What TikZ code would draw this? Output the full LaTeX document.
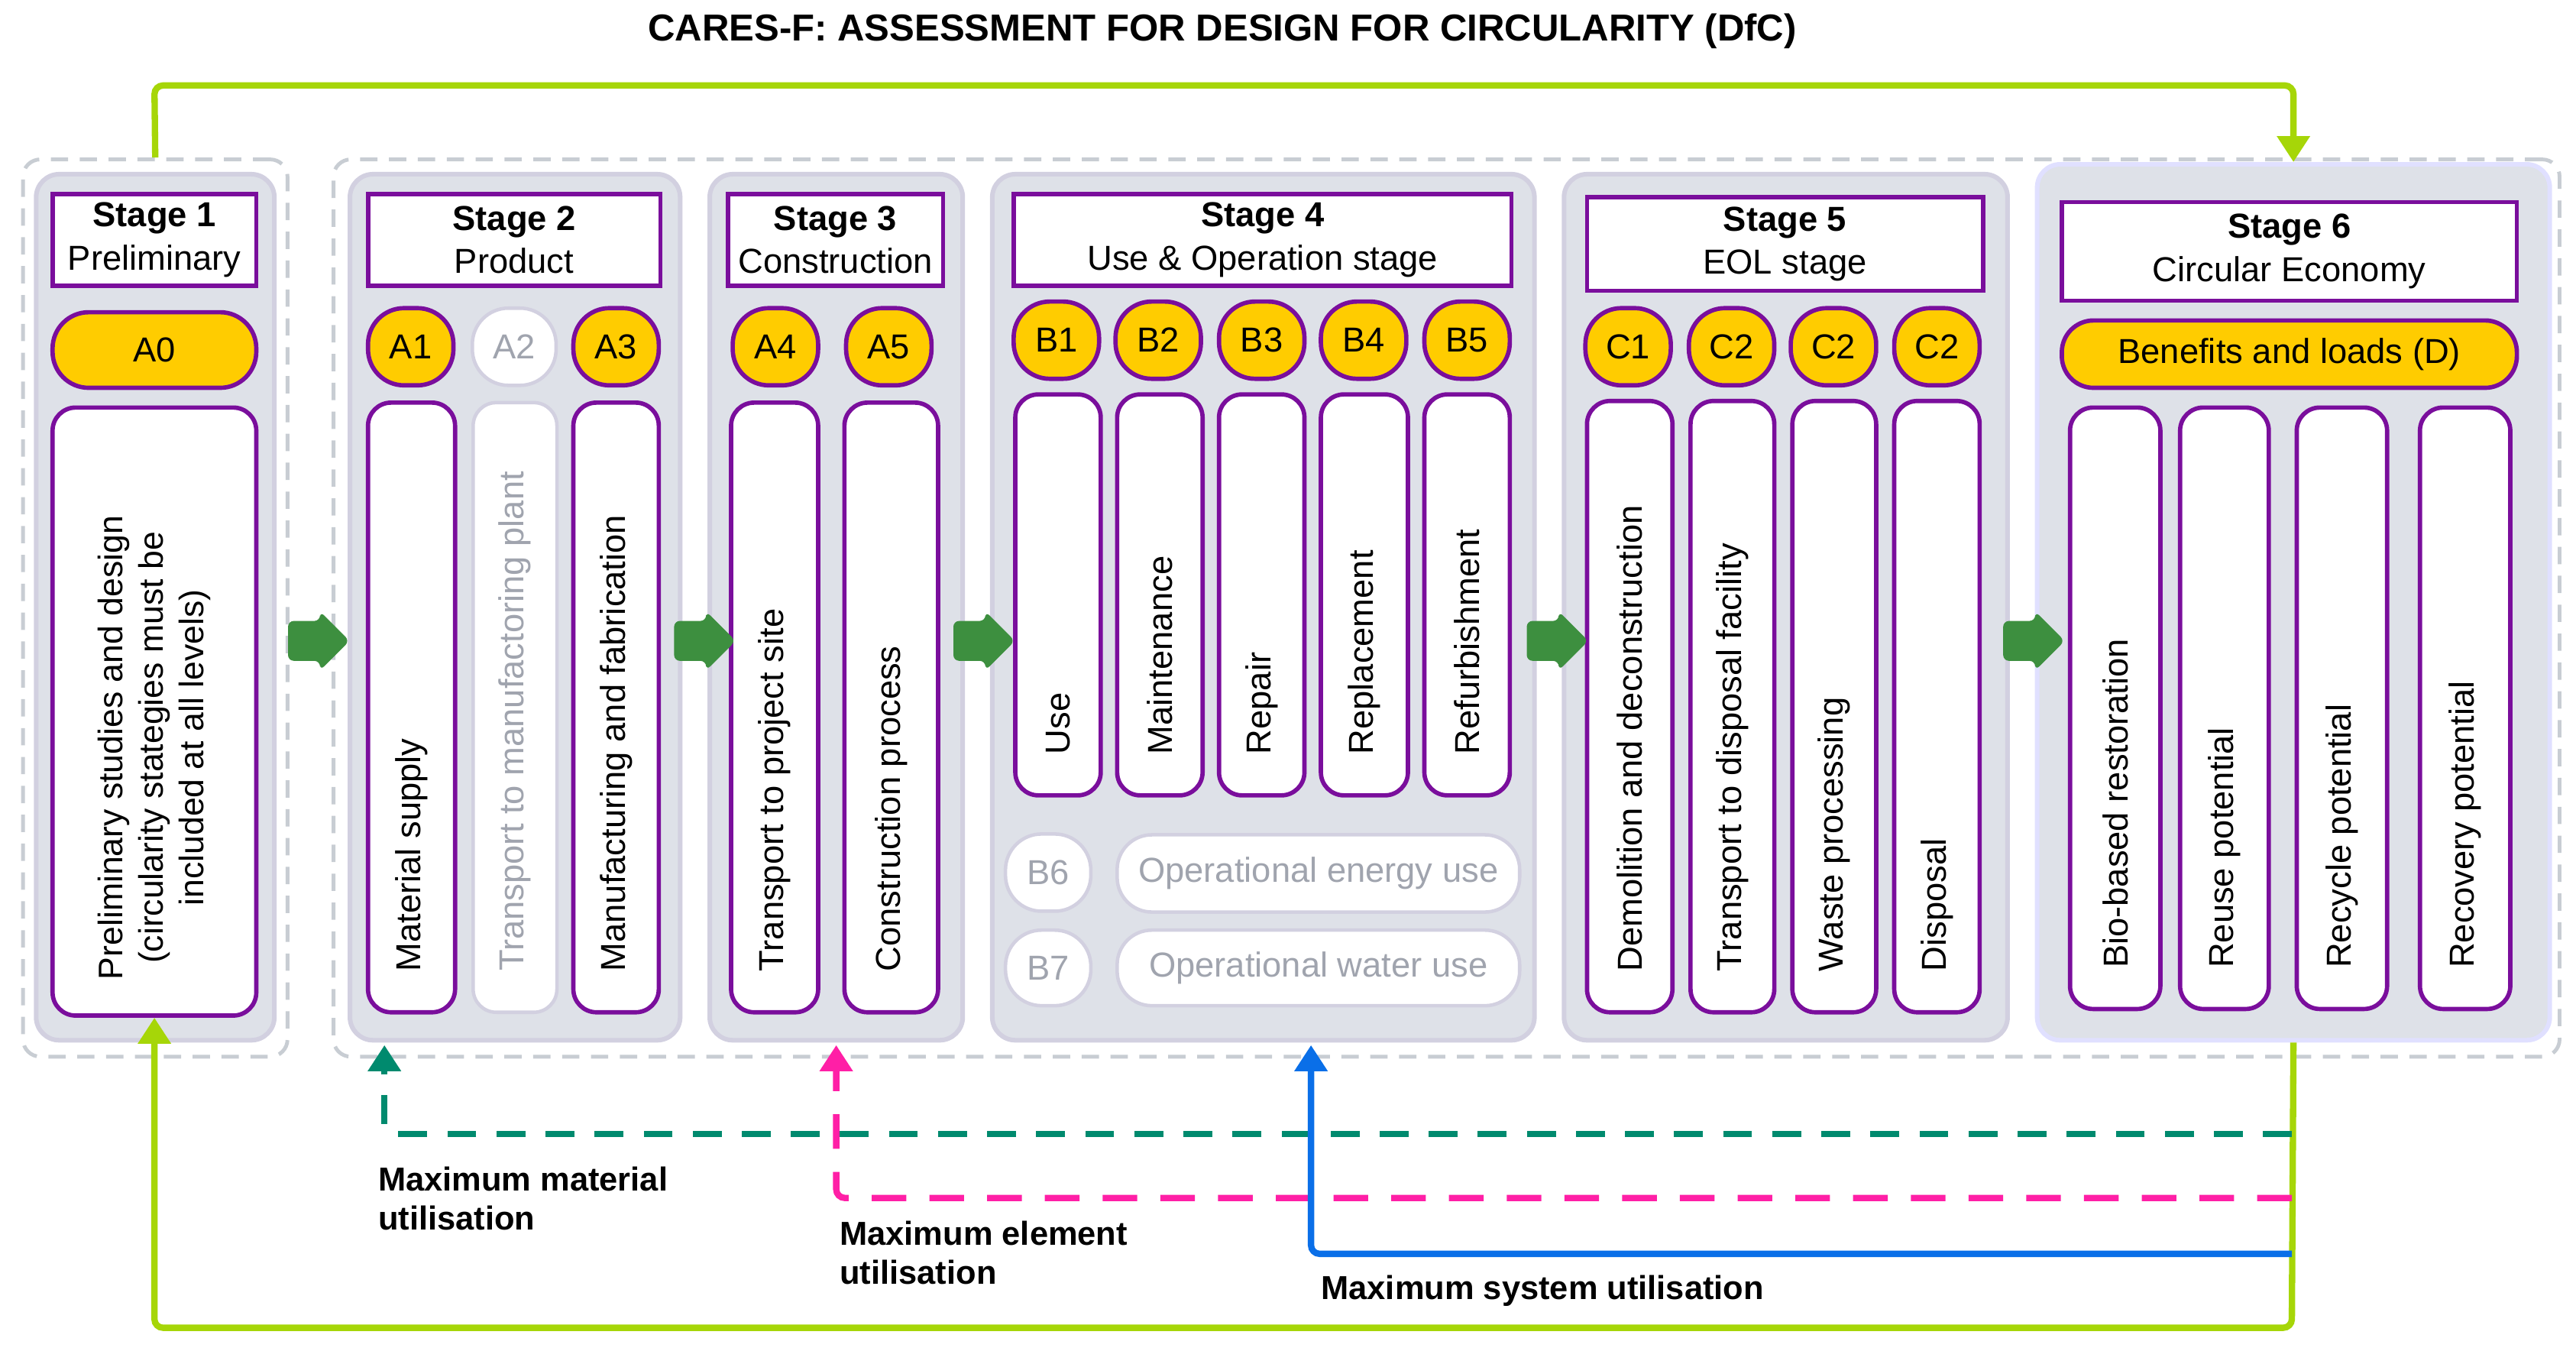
\documentclass[tikz,border=0pt]{standalone}
\usepackage{fontspec}
\setmainfont{Liberation Sans}
\usetikzlibrary{arrows.meta, positioning, shapes.arrows, fit}
\definecolor{pur}{HTML}{7A0E9C}
\definecolor{yel}{HTML}{FFCC00}
\definecolor{lime}{HTML}{A6D608}
\definecolor{teal2}{HTML}{008A6E}
\definecolor{mag}{HTML}{FF1FA6}
\definecolor{blu}{HTML}{0A6FE8}
\definecolor{panelg}{HTML}{DEE1E8}
\definecolor{panelb}{HTML}{D2D0E0}
\definecolor{dash}{HTML}{C8CDD3}
\definecolor{ghost}{HTML}{A0A4AE}
\definecolor{flowg}{HTML}{3D8F3F}
\tikzset{
  outer/.style={draw=dash, dashed, dash pattern=on 6pt off 4pt, line width=1.3pt, rounded corners=6pt, inner sep=0pt},
  panel/.style={draw=panelb, fill=panelg, line width=1.6pt, rounded corners=8pt, inner sep=0pt},
  head/.style={draw=pur, fill=white, line width=1.5pt, inner sep=0pt},
  pill/.style={draw=pur, fill=yel, line width=1.5pt, rounded corners=12.5pt, inner sep=0pt, font=\fontsize{12}{14}\selectfont},
  gpill/.style={draw=panelb, fill=white, line width=1.2pt, rounded corners=12.5pt, inner sep=0pt, text=ghost, font=\fontsize{12}{14}\selectfont},
  col/.style={draw=pur, fill=white, line width=1.5pt, rounded corners=8pt, inner sep=0pt},
  gcol/.style={draw=panelb, fill=white, line width=1.2pt, rounded corners=8pt, inner sep=0pt},
  ctext/.style={rotate=90, anchor=west, font=\fontsize{12}{14}\selectfont},
  flow/.style={single arrow, fill=flowg, draw=none, minimum height=0.75cm, minimum width=0.72cm, single arrow head extend=0.06cm, rounded corners=2pt},
  loop/.style={line width=2.2pt, -{Triangle[length=9pt,width=11pt]}},
  lab/.style={font=\fontsize{11.5}{13.5}\selectfont\bfseries, align=left, anchor=north west}
}
\begin{document}
\begin{tikzpicture}[x=0.02cm, y=-0.02cm]
\useasboundingbox (0,0) rectangle (1568,822);
\node[font=\fontsize{13}{15}\selectfont\bfseries] (title) at (744,19) {CARES-F: ASSESSMENT FOR DESIGN FOR CIRCULARITY (DfC)};
% outer dashed frames
\node[outer, fit={(14,97)(175,643)}] (out1) {};
\node[outer, fit={(203,97)(1558,643)}] (out2) {};
% stage panels
\node[panel, fit={(22,106)(167,633)}] (s1) {};
\node[panel, fit={(213,106)(414,633)}] (s2) {};
\node[panel, fit={(432,106)(586,633)}] (s3) {};
\node[panel, fit={(604,106)(934,633)}] (s4) {};
\node[panel, fit={(952,106)(1222,633)}] (s5) {};
\node[panel, draw=blue!12, fit={(1240,100)(1552,633)}] (s6) {};
% headers
\foreach \n/\xa/\ya/\xb/\yb/\t in {1/32/118/156/174/Preliminary, 2/224/118/402/174/Product, 3/443/118/574/174/Construction, 4/617/118/920/174/Use \& Operation stage, 5/966/120/1207/177/EOL stage, 6/1255/123/1532/183/Circular Economy}{
  \node[head, fit={(\xa,\ya)(\xb,\yb)}] (h\n) {};
  \node[align=center, font=\fontsize{12}{15}\selectfont] at (h\n) {\textbf{Stage \n}\\\t};
}
% module pills
\node[pill, fit={(32,190)(156,236)}] (a0) {};
\node at (a0) {\fontsize{12}{14}\selectfont A0};
\foreach \m/\x/\y in {A1/250/211, A3/375/211, A4/472/211, A5/541/211, B1/643/207, B2/705/207, B3/768/207, B4/830/207, B5/893/207, C1/991/211}{
  \node[pill, minimum width=1.04cm, minimum height=0.94cm] (\m) at (\x,\y) {\m};
}
\foreach \m/\x in {c2a/1054, c2b/1116, c2c/1179}{
  \node[pill, minimum width=1.04cm, minimum height=0.94cm] (\m) at (\x,211) {C2};
}
\node[gpill, minimum width=1.02cm, minimum height=0.94cm] (A2) at (313,211) {A2};
\node[pill, fit={(1255,195)(1532,236)}, rounded corners=11pt] (dpill) {};
\node at (dpill) {\fontsize{12}{14}\selectfont Benefits and loads (D)};
% columns
\node[col, fit={(32,248)(156,618)}] (c0) {};
\node[rotate=90, align=center, font=\fontsize{11.8}{14}\selectfont] at (94,455) {Preliminary studies and design\\(circularity stategies must be\\included at all levels)};
\foreach \n/\xa/\ya/\xb/\yb/\t in {a1c/224/245/277/616/Material supply, a3c/349/245/401/616/Manufacturing and fabrication, a4c/445/245/498/616/Transport to project site, a5c/514/245/571/616/Construction process, b1c/618/240/670/484/Use, b2c/680/240/732/484/Maintenance, b3c/742/240/794/484/Repair, b4c/804/240/857/484/Replacement, b5c/867/240/919/484/Refurbishment, c1c/966/244/1018/616/Demolition and deconstruction, c2c/1029/244/1080/616/Transport to disposal facility, c3c/1091/244/1142/616/Waste processing, c4c/1153/244/1205/616/Disposal, d1c/1260/248/1315/614/Bio-based restoration, d2c/1327/248/1381/614/Reuse potential, d3c/1398/248/1453/614/Recycle potential, d4c/1473/248/1528/614/Recovery potential}{
  \node[col, fit={(\xa,\ya)(\xb,\yb)}] (\n) {};
  \node[ctext] at ([yshift=0.4cm]\n.south) {\t};
}
\node[gcol, fit={(288,245)(339,616)}] (a2c) {};
\node[ctext, text=ghost] at ([yshift=0.4cm]a2c.south) {Transport to manufactoring plant};
% B6 / B7
\node[gpill, minimum width=1.04cm, minimum height=0.94cm] (B6) at (638,531) {B6};
\node[gpill, minimum width=1.04cm, minimum height=0.92cm] (B7) at (638,589) {B7};
\node[gcol, fit={(680,508)(925,555)}, rounded corners=12pt] (b6c) {};
\node[text=ghost, font=\fontsize{12}{14}\selectfont] at (b6c) {Operational energy use};
\node[gcol, fit={(680,566)(925,612)}, rounded corners=12pt] (b7c) {};
\node[text=ghost, font=\fontsize{12}{14}\selectfont] at (b7c) {Operational water use};
% flow arrows
\foreach \x in {188,423,593,942,1232}{
  \node[flow] at (\x,390) {};
}
% loops
\coordinate (mat) at (234,636);
\coordinate (ele) at (509,636);
\coordinate (sys) at (798,636);
\coordinate (tm) at (1395,690);
\coordinate (te) at (1395,729);
\coordinate (ts) at (1395,763);
\draw[loop, lime, rounded corners=3pt] (out1.north) -- (94,52) -| (s6.north);
\draw[loop, lime, rounded corners=3pt] (s6.south) -- (1395,808) -| (c0.south);
\draw[loop, teal2, dashed, dash pattern=on 10pt off 7pt, rounded corners=3pt] (tm) -| (mat);
\draw[loop, mag, dashed, dash pattern=on 12pt off 8pt, rounded corners=3pt] (te) -| (ele);
\draw[loop, blu, rounded corners=3pt] (ts) -| (sys);
\node[lab] (lm) at (224,704) {Maximum material\\utilisation};
\node[lab] (le) at (505,737) {Maximum element\\utilisation};
\node[lab] (ls) at (798,770) {Maximum system utilisation};
\end{tikzpicture}
\end{document}
